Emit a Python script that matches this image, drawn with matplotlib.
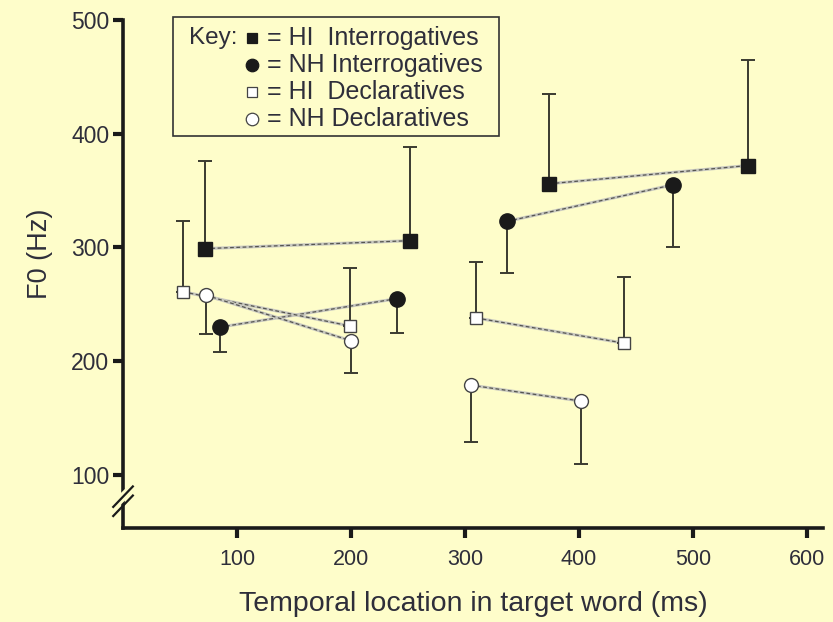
import matplotlib

matplotlib.use('Agg')

import matplotlib.pyplot as plt
from matplotlib.lines import Line2D

# F0 means (Hz) at temporal locations (ms); each group is two segments of two points
hi_int_x = [72, 252, 374, 548]
hi_int_y = [299, 306, 356, 372]
hi_int_err = [77, 82, 79, 93]          # drawn upward

nh_int_x = [85, 240, 337, 482]
nh_int_y = [230, 255, 323, 355]
nh_int_err = [22, 30, 45, 55]          # drawn downward

hi_dec_x = [53, 199, 310, 439]
hi_dec_y = [261, 231, 238, 216]
hi_dec_err = [62, 51, 49, 58]          # drawn upward

nh_dec_x = [73, 200, 305, 402]
nh_dec_y = [258, 218, 179, 165]
nh_dec_err = [34, 28, 50, 55]          # drawn downward

x_ticks = [100, 200, 300, 400, 500, 600]
y_ticks = [100, 200, 300, 400, 500]

BG = '#fefdca'
INK = '#1a1a1a'
TXT = '#2e2e3a'

plt.rcParams['font.family'] = ['Liberation Sans', 'DejaVu Sans']

fig = plt.figure(figsize=(8.33, 6.22), dpi=100, facecolor=BG)
ax = fig.add_axes([0.1477, 0.151, 0.8403, 0.817])
ax.set_facecolor(BG)


def draw_group(xs, ys, errs, marker, filled, up, ms):
    # pairs of points joined by a thin dashed grey line
    for i in (0, 2):
        ax.plot(xs[i:i + 2], ys[i:i + 2], '-', color='#c8c8c0', lw=2.2, zorder=2)
        ax.plot(xs[i:i + 2], ys[i:i + 2], '--', color='#555550', lw=0.9,
                dashes=(3, 2), zorder=2)
    lo = [0] * len(errs) if up else errs
    hi = errs if up else [0] * len(errs)
    ax.errorbar(xs, ys, yerr=[lo, hi], fmt='none', ecolor='#3a3a30',
                elinewidth=1.4, capsize=5, capthick=1.4, zorder=3)
    ax.plot(xs, ys, linestyle='none', marker=marker, ms=ms,
            mfc=INK if filled else 'white', mec=INK if filled else '#444',
            mew=1.0, zorder=4)


draw_group(hi_int_x, hi_int_y, hi_int_err, 's', True, True, 10)
draw_group(nh_int_x, nh_int_y, nh_int_err, 'o', True, False, 11)
draw_group(hi_dec_x, hi_dec_y, hi_dec_err, 's', False, True, 9)
draw_group(nh_dec_x, nh_dec_y, nh_dec_err, 'o', False, False, 10)

ax.set_xlim(0, 614)
ax.set_ylim(53.4, 500)
ax.set_xticks(x_ticks)
ax.set_yticks(y_ticks)
ax.tick_params(axis='both', direction='out', length=7, width=3, color=INK,
               labelcolor=TXT)
ax.tick_params(axis='x', pad=8, labelsize=15.5)
ax.tick_params(axis='y', pad=3, labelsize=16.5)
for side in ('top', 'right'):
    ax.spines[side].set_visible(False)
for side in ('left', 'bottom'):
    ax.spines[side].set_linewidth(2.6)
    ax.spines[side].set_color(INK)

ax.set_xlabel('Temporal location in target word (ms)', fontsize=20.5,
              color=TXT, labelpad=15)
ax.set_ylabel('F0 (Hz)', fontsize=19.5, color=TXT)
ax.yaxis.set_label_coords(-0.1, 0.54)

# axis break on the y spine
trans = ax.get_yaxis_transform()
ax.add_line(Line2D([-0.005, 0.005], [78, 84], transform=trans, color=BG,
                   lw=6, clip_on=False, zorder=5))
for y0 in (72, 80):
    ax.add_line(Line2D([-0.014, 0.014], [y0 - 8, y0 + 10], transform=trans,
                       color=INK, lw=1.6, clip_on=False, zorder=6))

# key box
ax.add_patch(plt.Rectangle((0.071, 0.7717), 0.466, 0.234, transform=ax.transAxes,
                           fill=False, ec='#333333', lw=1.2, zorder=5,
                           clip_on=False))
key_rows = [
    ('s', True, '= HI  Interrogatives'),
    ('o', True, '= NH Interrogatives'),
    ('s', False, '= HI  Declaratives'),
    ('o', False, '= NH Declaratives'),
]
ax.text(0.094, 0.9646, 'Key:', transform=ax.transAxes, fontsize=17.5,
        color=TXT, va='center')
for k, (m, filled, label) in enumerate(key_rows):
    yk = 0.9646 - k * 0.0532
    ax.plot([0.184], [yk], transform=ax.transAxes, marker=m,
            ms=7 if m == 's' else 9, mfc=INK if filled else 'white',
            mec=INK if filled else '#444', mew=0.9, linestyle='none',
            clip_on=False, zorder=6)
    ax.text(0.205, yk, label, transform=ax.transAxes, fontsize=18,
            color=TXT, va='center')

fig.savefig('out.png', dpi=100, facecolor=BG)
